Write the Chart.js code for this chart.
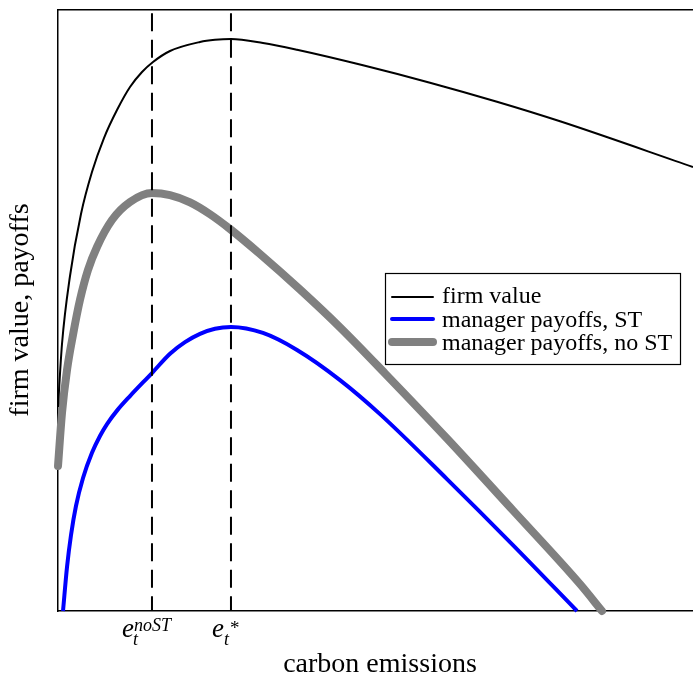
<!DOCTYPE html>
<html>
<head>
<meta charset="utf-8">
<script src="https://cdn.jsdelivr.net/npm/chart.js@4.4.1/dist/chart.umd.min.js"></script>
<style>
  html, body { margin: 0; padding: 0; background: #fff; }
  #wrap { width: 693px; height: 676px; }
</style>
</head>
<body>
<div id="wrap"><canvas id="myChart" width="693" height="676"></canvas></div>
<script>
// emissions (x) and payoffs (y)
const firmX = [0, 0.063, 0.189, 0.362, 0.535, 0.724, 0.929, 1.134, 1.323, 1.496, 1.764, 2.236, 2.472, 2.724, 3.228, 3.764, 4.803, 5.858, 6.913, 7.906, 10];
const firmValue = [3.394, 4.443, 5.574, 6.606, 7.304, 7.87, 8.336, 8.719, 8.968, 9.135, 9.318, 9.468, 9.504, 9.517, 9.451, 9.338, 9.08, 8.79, 8.473, 8.148, 7.388];

const stX = [0.079, 0.142, 0.205, 0.283, 0.394, 0.535, 0.661, 0.772, 0.929, 1.134, 1.48, 1.764, 2.0, 2.236, 2.472, 2.724, 3.228, 3.764, 4.441, 5.071, 6.126, 7.165, 8.173];
const managerST = [0, 0.732, 1.265, 1.747, 2.213, 2.632, 2.912, 3.11, 3.334, 3.577, 3.96, 4.28, 4.473, 4.611, 4.696, 4.725, 4.626, 4.343, 3.842, 3.276, 2.195, 1.097, 0];

const noStX = [0, 0.063, 0.142, 0.236, 0.346, 0.472, 0.614, 0.85, 1.134, 1.48, 1.764, 2.079, 2.394, 2.709, 3.181, 3.811, 4.441, 5.15, 6.126, 7.165, 8.22, 8.567];
const managerNoST = [2.413, 3.295, 4.01, 4.592, 5.175, 5.674, 6.057, 6.506, 6.805, 6.955, 6.92, 6.799, 6.602, 6.356, 5.94, 5.349, 4.72, 3.953, 2.87, 1.674, 0.449, 0];

const eNoST = 1.48;
const eStar = 2.724;
const xRange = [0, 10];
const yRange = [0, 10];

const toPoints = (xs, ys) => xs.map((x, i) => ({ x: x, y: ys[i] }));

const serif = "'Liberation Serif', 'Times New Roman', serif";

//vertical dashed markers
const dashedLine = (x) => ({
  label: "",
  data: [{ x: x, y: yRange[1] }, { x: x, y: yRange[0] }],
  borderColor: "#000",
  borderWidth: 2,
  borderDash: [18, 8.5],
  borderDashOffset: 23.2,
  tension: 0,
  cubicInterpolationMode: "default",
  order: -1,
});

//legend box and text labels
const textPlugin = {
  id: "texts",
  afterDraw(chart) {
    const ctx = chart.ctx;
    const xs = chart.scales.x;
    ctx.save();
    ctx.fillStyle = "#000";

    // axis titles
    ctx.font = "28px " + serif;
    ctx.textAlign = "center";
    ctx.textBaseline = "alphabetic";
    ctx.fillText("carbon emissions", 380, 672);
    ctx.save();
    ctx.translate(28, 310);
    ctx.rotate(-Math.PI / 2);
    ctx.fillText("firm value, payoffs", 0, 0);
    ctx.restore();

    // tick labels
    ctx.textAlign = "left";
    const p1 = xs.getPixelForValue(eNoST);
    ctx.font = "italic 27px " + serif;
    ctx.fillText("e", p1 - 30, 637);
    ctx.font = "italic 18px " + serif;
    ctx.fillText("t", p1 - 19, 645);
    ctx.fillText("noST", p1 - 18, 631);

    const p2 = xs.getPixelForValue(eStar);
    ctx.font = "italic 27px " + serif;
    ctx.fillText("e", p2 - 19, 637);
    ctx.font = "italic 18px " + serif;
    ctx.fillText("t", p2 - 7, 645);
    ctx.font = "19px " + serif;
    ctx.fillText("*", p2 - 1, 634);

    // legend
    ctx.fillStyle = "#fff";
    ctx.fillRect(385, 273, 295, 91);
    ctx.strokeStyle = "#000";
    ctx.lineWidth = 1.2;
    ctx.strokeRect(385.5, 273.5, 295, 91);
    const rows = chart.data.datasets.filter((d) => d.label);
    const lineY = [297, 319, 342];
    const textY = [303, 327, 350];
    ctx.font = "24px " + serif;
    rows.forEach((d, i) => {
      ctx.beginPath();
      ctx.strokeStyle = d.borderColor;
      ctx.lineWidth = d.borderWidth;
      ctx.lineCap = "round";
      ctx.moveTo(392, lineY[i]);
      ctx.lineTo(433, lineY[i]);
      ctx.stroke();
      ctx.fillStyle = "#000";
      ctx.fillText(d.label, 442, textY[i]);
    });
    ctx.restore();
  },
};

const myChart = new Chart(document.getElementById("myChart"), {
  type: "scatter",
  data: {
    datasets: [
      {
        label: "firm value",
        data: toPoints(firmX, firmValue),
        borderColor: "#000",
        borderWidth: 2,
      },
      {
        label: "manager payoffs, ST",
        data: toPoints(stX, managerST),
        borderColor: "#0000ff",
        borderWidth: 4,
      },
      {
        label: "manager payoffs, no ST",
        data: toPoints(noStX, managerNoST),
        borderColor: "#808080",
        borderWidth: 8,
        borderCapStyle: "round",
      },
      dashedLine(eNoST),
      dashedLine(eStar),
    ],
  },
  options: {
    responsive: false,
    animation: false,
    showLine: true,
    clip: 8,
    elements: {
      point: { radius: 0, hoverRadius: 0 },
      line: { cubicInterpolationMode: "monotone", fill: false },
    },
    layout: { padding: 0 },
    scales: {
      x: {
        type: "linear",
        min: xRange[0],
        max: xRange[1],
        grid: { display: false },
        ticks: { display: false },
        border: { color: "#000", width: 1.5 },
        afterFit: (s) => { s.height = 65; },
      },
      x2: {
        type: "linear",
        position: "top",
        min: xRange[0],
        max: xRange[1],
        grid: { display: false },
        ticks: { display: false },
        border: { color: "#000", width: 1.5 },
        afterFit: (s) => { s.height = 10; },
      },
      y: {
        min: yRange[0],
        max: yRange[1],
        grid: { display: false },
        ticks: { display: false },
        border: { color: "#000", width: 1.5 },
        afterFit: (s) => { s.width = 58; },
      },
    },
    plugins: {
      legend: { display: false },
      tooltip: { enabled: false },
    },
  },
  plugins: [textPlugin],
});
</script>
</body>
</html>
